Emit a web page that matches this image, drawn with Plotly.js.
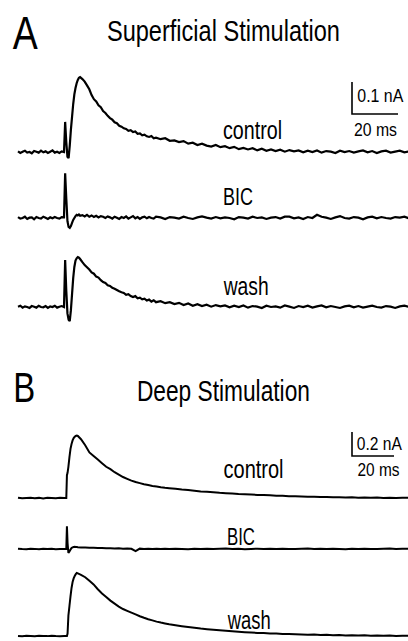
<!DOCTYPE html>
<html>
<head>
<meta charset="utf-8">
<script src="https://cdn.plot.ly/plotly-3.0.1.min.js"></script>
<style>html,body{margin:0;padding:0;background:#fff;}#chart{width:408px;height:641px;}</style>
</head>
<body>
<div id="chart"></div>
<script>
// ---------------- DATA (time in ms, current in nA, upward positive) ----------------
const panelLabels = ["A", "B"];
const panelTitles = ["Superficial Stimulation", "Deep Stimulation"];
const conditionLabels = ["control", "BIC", "wash"];
const scaleBarA = [0.1, 20];   // nA, ms
const scaleBarB = [0.2, 20];   // nA, ms
const scaleTextA = ["0.1 nA", "20 ms"];
const scaleTextB = ["0.2 nA", "20 ms"];

const timeA = [0,1,2,3,4,5,6,7,8,9,10,11,12,13,14,15,16,17,18,19,20,
  20.5,21,21.5,22,22.5,23,23.5,24,24.5,25,25.5,26,26.5,27,
  28,29,30,31,32,33,34,35,36,37,38,39,40,41,42,43,44,45,46,47,48,49,50,51,52,53,54,55,56,57,58,59,60,
  62,64,66,68,70,72,74,76,78,80,82,84,86,88,90,92,94,96,98,100,102,104,106,108,110,112,114,116,118,120,
  122,124,126,128,130,132,134,136,138,140,142,144,146,148,150,152,154,156,158,160,162,164,166,168,170];

const superficialControl = [0.002,-0.003,0.001,0.004,-0.002,0.000,-0.004,0.003,0.001,-0.002,0.004,-0.001,0.002,-0.003,0.001,0.005,-0.002,0.001,-0.003,0.002,0.000,
  0.094,0.030,-0.015,-0.019,0.020,0.070,0.110,0.150,0.180,0.200,0.215,0.225,0.232,0.234,
  0.228,0.220,0.208,0.196,0.178,0.165,0.158,0.146,0.140,0.128,0.122,0.113,0.106,0.101,0.093,0.090,0.082,0.079,0.074,0.072,0.066,0.068,0.062,0.064,0.057,0.058,0.052,0.054,0.049,0.047,0.050,0.043,0.045,
  0.040,0.043,0.035,0.036,0.031,0.034,0.026,0.029,0.022,0.026,0.020,0.017,0.022,0.015,0.018,0.012,0.016,0.009,0.013,0.008,0.012,0.005,0.010,0.004,0.008,0.003,0.007,0.001,0.006,0.002,
  0.005,-0.001,0.004,0.000,0.005,-0.002,0.003,0.001,-0.003,0.004,0.000,0.003,-0.002,0.002,0.005,-0.001,0.003,-0.003,0.002,0.004,-0.002,0.001,0.004,-0.001,0.002];

const superficialBIC = [0.003,-0.002,0.000,0.004,-0.003,0.001,0.002,-0.004,0.003,0.000,-0.002,0.004,0.001,-0.003,0.002,-0.001,0.003,0.000,-0.002,0.003,0.002,
  0.140,0.060,-0.010,-0.028,-0.031,-0.025,-0.015,-0.006,0.000,0.006,0.010,0.008,0.011,0.007,
  0.009,0.005,0.010,0.004,0.008,0.003,0.007,0.002,0.006,0.004,0.000,0.005,0.002,-0.002,0.004,0.001,-0.003,0.003,0.000,0.005,-0.002,0.002,0.006,-0.001,0.003,-0.003,0.002,0.004,-0.001,0.003,0.000,-0.002,0.004,
  0.002,-0.003,0.003,0.001,-0.002,0.004,0.000,-0.003,0.002,0.005,0.001,-0.002,0.003,-0.001,0.002,0.000,-0.004,0.003,0.001,-0.002,0.004,0.000,0.002,-0.003,0.001,0.003,-0.002,0.004,0.004,-0.001,
  0.002,-0.003,0.003,0.000,0.010,0.004,0.001,-0.003,0.002,0.006,0.000,-0.002,0.003,0.001,-0.004,0.002,0.004,-0.001,0.003,0.000,-0.002,0.003,0.001,0.004,-0.001];

const superficialWash = [0.001,0.004,-0.002,0.002,0.000,-0.003,0.003,0.001,-0.002,0.004,0.000,-0.001,0.003,-0.003,0.002,0.000,0.004,-0.002,0.001,0.003,0.000,
  0.147,0.050,-0.020,-0.040,-0.044,-0.010,0.040,0.090,0.125,0.145,0.152,0.156,0.154,0.150,
  0.140,0.131,0.124,0.117,0.108,0.104,0.095,0.092,0.084,0.078,0.075,0.068,0.066,0.060,0.057,0.053,0.049,0.046,0.044,0.038,0.040,0.034,0.031,0.034,0.027,0.029,0.024,0.026,0.020,0.023,0.017,0.021,0.015,
  0.018,0.012,0.015,0.009,0.013,0.006,0.011,0.004,0.009,0.003,0.007,0.001,0.006,0.002,0.005,-0.001,0.004,0.000,0.005,-0.002,0.003,0.001,-0.003,0.004,0.000,0.002,-0.002,0.005,0.001,-0.003,
  0.003,0.000,0.004,-0.002,0.002,0.005,-0.001,0.003,0.000,-0.003,0.002,0.004,-0.001,0.003,-0.002,0.001,0.004,0.000,-0.002,0.003,0.001,-0.003,0.002,0.004,0.000];

const timeB = [0,2,4,6,8,10,12,14,16,18,20,22,
  23,23.3,23.6,24,24.5,25,25.5,26,26.5,27,27.5,28,28.5,
  30,32,34,36,38,40,42,44,46,48,50,52,54,56,58,60,62,64,66,68,70,
  72,75,78,81,84,87,90,93,96,99,102,105,108,111,114,117,120,123,126,129,132,135,138,141,144,147,150,153,156,159,162,165,168,171,174,177,180,183,186];

const deepControl = [0.002,-0.003,0.000,0.003,-0.002,0.001,-0.004,0.002,0.000,-0.002,0.003,0.000,
  0.000,0.19,0.21,0.26,0.34,0.41,0.45,0.48,0.50,0.51,0.517,0.52,0.517,
  0.49,0.44,0.38,0.35,0.32,0.29,0.26,0.24,0.215,0.195,0.175,0.16,0.145,0.133,0.124,0.115,0.108,0.10,0.095,0.089,0.085,
  0.082,0.077,0.071,0.067,0.061,0.055,0.052,0.048,0.043,0.040,0.037,0.033,0.031,0.029,0.026,0.025,0.022,0.019,0.018,0.015,0.014,0.013,0.010,0.011,0.008,0.009,0.006,0.007,0.004,0.006,0.003,0.005,0.002,0.004,0.001,0.003,0.000,0.003,0.001];

const deepBIC = [0.003,0.000,-0.002,0.002,0.001,-0.003,0.002,0.000,0.003,-0.002,0.001,0.000,
  0.000,0.19,0.05,-0.033,-0.02,-0.005,0.008,0.014,0.017,0.018,0.016,0.017,0.015,
  0.013,0.012,0.010,0.011,0.008,0.009,0.006,0.007,0.005,0.006,0.003,0.004,0.002,-0.018,0.003,0.001,0.002,0.000,0.003,0.001,0.002,
  0.000,0.003,0.001,-0.002,0.002,0.000,0.003,-0.001,0.002,0.004,0.000,0.002,-0.002,0.001,0.003,0.000,0.002,-0.001,0.003,0.001,0.000,0.002,0.004,-0.001,0.002,0.000,0.003,0.001,-0.002,0.002,0.000,0.003,0.001,-0.001,0.002,0.004,0.000,0.002,0.001];

const deepWash = [0.001,-0.002,0.002,0.000,-0.003,0.002,0.001,-0.001,0.003,0.000,-0.002,0.001,
  0.000,0.000,0.02,0.17,0.25,0.33,0.40,0.45,0.48,0.50,0.515,0.525,0.522,
  0.51,0.49,0.46,0.43,0.39,0.355,0.325,0.295,0.27,0.245,0.225,0.21,0.195,0.18,0.165,0.152,0.14,0.13,0.12,0.112,0.105,
  0.098,0.090,0.082,0.075,0.069,0.062,0.057,0.052,0.047,0.043,0.039,0.035,0.032,0.029,0.026,0.024,0.021,0.020,0.017,0.016,0.014,0.013,0.011,0.012,0.009,0.010,0.007,0.008,0.005,0.007,0.004,0.006,0.003,0.005,0.002,0.004,0.001,0.003,0.002];

// ---------------- LAYOUT / STYLE ----------------
const W = 408, H = 641;
const FONT = "'Liberation Sans', Arial, sans-serif";
// horizontal geometry (px): trace start, px per ms
const xGeom = { A: { start: 18, ppms: 2.3 }, B: { start: 18, ppms: 2.1 } };
// vertical geometry (px): baseline, px per nA, band top, band bottom
const yGeom = [
  { base: 152, ppu: 320, top: 60,  bot: 166 },
  { base: 218, ppu: 320, top: 160, bot: 236 },
  { base: 307, ppu: 320, top: 240, bot: 330 },
  { base: 498, ppu: 120, top: 415, bot: 512 },
  { base: 549, ppu: 120, top: 512, bot: 562 },
  { base: 636, ppu: 120, top: 560, bot: 641 }
];

function xAxis(g, anchor) {
  return { domain: [0, 1], range: [-g.start / g.ppms, (W - g.start) / g.ppms], visible: false, anchor: anchor, fixedrange: true };
}
function yAxis(g, anchor) {
  return { domain: [1 - g.bot / H, 1 - g.top / H], range: [-(g.bot - g.base) / g.ppu, (g.base - g.top) / g.ppu], visible: false, anchor: anchor, fixedrange: true };
}
const pxToT = (g, px) => (px - g.start) / g.ppms;
const pxToV = (g, py) => (g.base - py) / g.ppu;

const lineA = { color: '#000', width: 2.2, shape: 'linear', simplify: false };
const lineB = { color: '#000', width: 2.0, shape: 'linear', simplify: false };
const series = [
  [timeA, superficialControl, 'x', 'y', lineA],
  [timeA, superficialBIC, 'x', 'y2', lineA],
  [timeA, superficialWash, 'x', 'y3', lineA],
  [timeB, deepControl, 'x2', 'y4', lineB],
  [timeB, deepBIC, 'x2', 'y5', lineB],
  [timeB, deepWash, 'x2', 'y6', lineB]
];
const traces = series.map(s => ({
  type: 'scatter', mode: 'lines', x: s[0], y: s[1], xaxis: s[2], yaxis: s[3],
  line: s[4], hoverinfo: 'skip', showlegend: false, cliponaxis: true
}));

// scale bars (anchored at corner pixel, lengths from data)
function scaleBar(gx, gy, cornerPx, bar, xa, ya) {
  const t0 = pxToT(gx, cornerPx[0]);
  const v0 = pxToV(gy, cornerPx[1]);
  return { type: 'scatter', mode: 'lines', x: [t0, t0, t0 + bar[1]], y: [v0 + bar[0], v0, v0],
    xaxis: xa, yaxis: ya, line: { color: '#000', width: 1.6 }, hoverinfo: 'skip', showlegend: false };
}
traces.push(scaleBar(xGeom.A, yGeom[0], [352, 114], scaleBarA, 'x', 'y'));
traces.push(scaleBar(xGeom.B, yGeom[3], [352, 456], scaleBarB, 'x2', 'y4'));

// text: [text, centre x px, centre y px, font size, target width px]
const textSpecs = [
  [panelLabels[0], 25.5, 33.5, 46, 25],
  [panelTitles[0], 223.5, 31, 29, 233],
  [conditionLabels[0], 252.5, 130, 25, 59],
  [conditionLabels[1], 238, 196.5, 24, 30],
  [conditionLabels[2], 245.5, 285.5, 25, 45],
  [scaleTextA[0], 380, 95.5, 17.5, 46],
  [scaleTextA[1], 375, 130, 18, 43],
  [panelLabels[1], 24, 387, 43, 22],
  [panelTitles[1], 223.5, 391, 29, 173],
  [conditionLabels[0], 253, 468.5, 25, 60],
  [conditionLabels[1], 241, 536.5, 24, 28],
  [conditionLabels[2], 248.5, 619.5, 25, 43],
  [scaleTextB[0], 379, 444, 17.5, 45],
  [scaleTextB[1], 378, 470, 18, 42]
];
const annotations = textSpecs.map(s => ({
  text: s[0], xref: 'paper', yref: 'paper', x: s[1] / W, y: 1 - s[2] / H,
  xanchor: 'center', yanchor: 'middle', showarrow: false, borderpad: 0,
  font: { family: FONT, size: s[3], color: '#000' }
}));

const layout = {
  width: W, height: H, margin: { l: 0, r: 0, t: 0, b: 0 },
  paper_bgcolor: '#fff', plot_bgcolor: 'rgba(0,0,0,0)',
  showlegend: false,
  xaxis: xAxis(xGeom.A, 'y'),
  xaxis2: xAxis(xGeom.B, 'y4'),
  yaxis: yAxis(yGeom[0], 'x'),
  yaxis2: yAxis(yGeom[1], 'x'),
  yaxis3: yAxis(yGeom[2], 'x'),
  yaxis4: yAxis(yGeom[3], 'x2'),
  yaxis5: yAxis(yGeom[4], 'x2'),
  yaxis6: yAxis(yGeom[5], 'x2'),
  annotations: annotations
};

Plotly.newPlot('chart', traces, layout, { staticPlot: true, displayModeBar: false }).then(gd => {
  // condense the lettering to the narrow typeface widths of the original figure
  gd.querySelectorAll('.annotation').forEach(g => {
    const i = +g.getAttribute('data-index');
    const t = g.querySelector('text.annotation-text');
    if (!t || !textSpecs[i]) return;
    const target = textSpecs[i][4];
    t.setAttribute('textLength', target);
    t.setAttribute('lengthAdjust', 'spacingAndGlyphs');
    const bg = g.querySelector('rect.bg');
    if (bg) {
      const w0 = +bg.getAttribute('width');
      const x0 = +bg.getAttribute('x') || 0;
      if (w0 > target) {
        bg.setAttribute('x', x0 + (w0 - target) / 2);
        bg.setAttribute('width', target);
      }
    }
  });
});
</script>
</body>
</html>
